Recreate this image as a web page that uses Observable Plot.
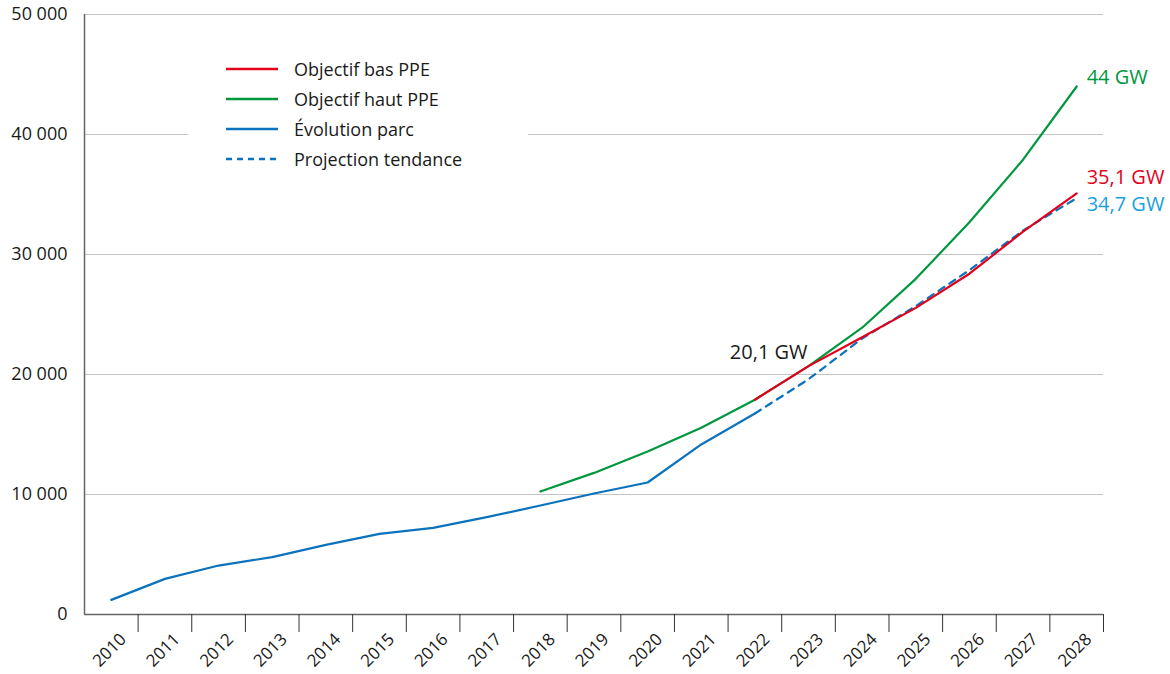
<!DOCTYPE html>
<html>
<head>
<meta charset="utf-8">
<script src="https://cdn.jsdelivr.net/npm/d3@7"></script>
<script src="https://cdn.jsdelivr.net/npm/@observablehq/plot@0.6"></script>
<style>
  html, body { margin: 0; padding: 0; background: #fff; }
  body { font-family: "Open Sans", sans-serif; }
  #wrap { position: relative; width: 1170px; height: 674px; }
  #legend { position: absolute; left: 188px; top: 50px; width: 340px; height: 126px; background: #fff; }
  .item { position: absolute; left: 38px; height: 30px; display: flex; align-items: center; font-size: 18px; color: #1a1a1a; }
  .item svg { margin-right: 16px; }
</style>
</head>
<body>
<div id="wrap"></div>
<script>
// ---- data ----
const parcYears = [2010, 2011, 2012, 2013, 2014, 2015, 2016, 2017, 2018, 2019, 2020, 2021, 2022];
const parcValues = [1220, 2970, 4080, 4780, 5800, 6720, 7220, 8110, 9080, 10080, 11000, 14170, 16750];

const hautYears = [2018, 2019, 2020, 2021, 2022, 2023, 2024, 2025, 2026, 2027, 2028];
const hautValues = [10250, 11800, 13580, 15560, 17900, 20700, 23900, 27970, 32690, 37900, 44000];

const basYears = [2022, 2023, 2024, 2025, 2026, 2027, 2028];
const basValues = [17900, 20700, 23110, 25550, 28400, 31900, 35100];

const tendYears = [2022, 2023, 2024, 2025, 2026, 2027, 2028];
const tendValues = [16750, 19600, 23000, 25700, 28700, 32000, 34700];

const allYears = d3.range(2010, 2029);
const yTicks = [0, 10000, 20000, 30000, 40000, 50000];

const endLabels = [
  {year: 2028, value: 44000, text: "44 GW", color: "#00973f", dy: -9},
  {year: 2028, value: 35100, text: "35,1 GW", color: "#e3001b", dy: -16},
  {year: 2028, value: 34700, text: "34,7 GW", color: "#1c9fdc", dy: 6}
];
const midLabels = [{year: 2023, value: 20100, text: "20,1 GW"}];

const legendItems = [
  {name: "Objectif bas PPE", color: "#e3001b", dash: null},
  {name: "Objectif haut PPE", color: "#00973f", dash: null},
  {name: "Évolution parc", color: "#0b72bd", dash: null},
  {name: "Projection tendance", color: "#0b72bd", dash: "6,5"}
];

// ---- build ----
const zip = (xs, ys) => xs.map((x, i) => ({year: x, value: ys[i]}));
const parc = zip(parcYears, parcValues);
const haut = zip(hautYears, hautValues);
const bas = zip(basYears, basValues);
const tend = zip(tendYears, tendValues);
const xDomain = [allYears[0] - 0.5, allYears[allYears.length - 1] + 0.5];
const boundaries = allYears.map(y => y + 0.5);
const fmt = d => d3.format(",")(d).replace(/,/g, " ");

const chart = Plot.plot({
  width: 1170,
  height: 674,
  marginLeft: 84,
  marginRight: 67,
  marginTop: 14,
  marginBottom: 60,
  style: {fontFamily: "'Open Sans', sans-serif", fontSize: "16px", color: "#1a1a1a", background: "#fff"},
  x: {domain: xDomain, label: null},
  y: {domain: [0, 50000], label: null},
  marks: [
    Plot.gridY(yTicks.slice(1), {stroke: "#c4c4c4", strokeOpacity: 1, strokeWidth: 1.2}),
    Plot.axisY(yTicks, {tickSize: 0, tickPadding: 17, tickFormat: fmt, fontSize: 18, label: null}),
    Plot.ruleX([xDomain[0]], {stroke: "#666", strokeWidth: 1.5}),
    Plot.ruleY([0], {stroke: "#666", strokeWidth: 1.5}),
    Plot.axisX(boundaries, {tickSize: 18, tickFormat: () => "", stroke: "#333", label: null}),
    Plot.axisX(allYears, {tickSize: 0, tickRotate: -45, tickFormat: d => String(d), tickPadding: 22, dx: 12, fontSize: 17, label: null}),
    Plot.line(parc, {x: "year", y: "value", stroke: "#0b72bd", strokeWidth: 2.2}),
    Plot.line(haut, {x: "year", y: "value", stroke: "#00973f", strokeWidth: 2.2}),
    Plot.line(tend, {x: "year", y: "value", stroke: "#0b72bd", strokeWidth: 2.2, strokeDasharray: "7,6"}),
    Plot.line(bas, {x: "year", y: "value", stroke: "#e3001b", strokeWidth: 2.2}),
    ...endLabels.map(l => Plot.text([l], {x: "year", y: "value", text: "text", fill: l.color, textAnchor: "start", dx: 10, dy: l.dy, fontSize: 20})),
    Plot.text(midLabels, {x: "year", y: "value", text: "text", fill: "#1a1a1a", textAnchor: "end", dx: -1, dy: -21, fontSize: 20})
  ]
});

const wrap = document.getElementById("wrap");
wrap.appendChild(chart);

const legend = document.createElement("div");
legend.id = "legend";
legendItems.forEach((it, i) => {
  const row = document.createElement("div");
  row.className = "item";
  row.style.top = (4 + i * 30) + "px";
  row.innerHTML = `<svg width="52" height="6"><line x1="0" y1="3" x2="52" y2="3" stroke="${it.color}" stroke-width="2.6" ${it.dash ? `stroke-dasharray="${it.dash}"` : ""}/></svg><span>${it.name}</span>`;
  legend.appendChild(row);
});
wrap.appendChild(legend);
</script>
</body>
</html>
